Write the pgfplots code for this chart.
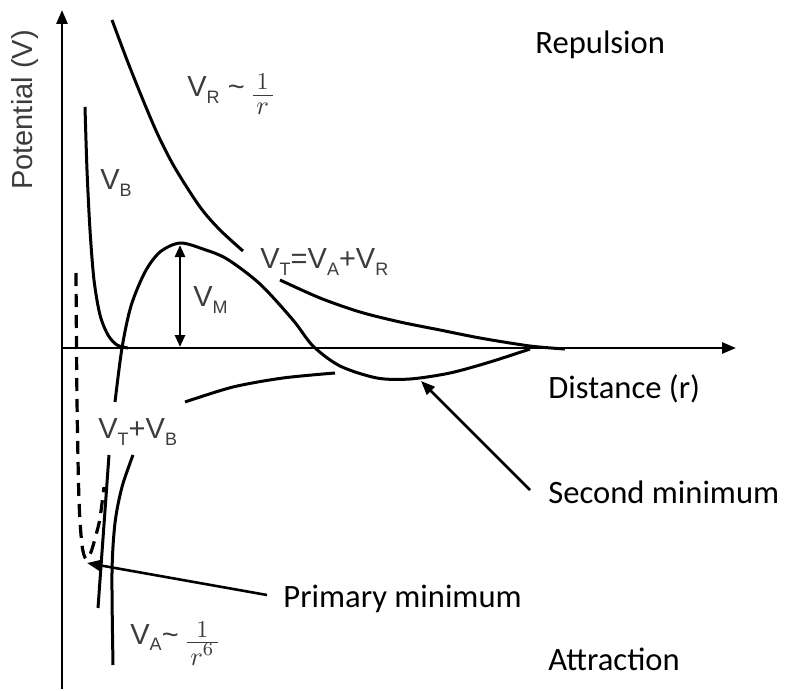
\documentclass[border=0pt]{standalone}
\usepackage{pgfplots}
\pgfplotsset{compat=1.18}
\usepackage{fontspec}
\setmainfont{Carlito}
\newfontfamily\lab{Liberation Sans}
\usetikzlibrary{arrows.meta}

\definecolor{labgray}{RGB}{60,60,60}
% subscript in the sans labels
\newcommand\sub[1]{\raisebox{-0.24em}{\fontsize{9}{9}\selectfont #1}}
\newcommand\vl[1]{{\lab\fontsize{14.5}{16}\selectfont\color{labgray}#1}}
\newcommand\tx[1]{{\fontsize{16.3}{18}\selectfont #1}}
% stacked fraction 1 over #1
\newcommand\fr[1]{\raisebox{3.5pt}{\fontsize{11}{12}\selectfont\setlength\arrayrulewidth{0.6pt}\renewcommand\arraystretch{0.7}%
  \begin{tabular}[t]{@{\,}c@{\,}}\scalebox{1.1}{$1$}\\\hline\rule{0pt}{9pt}\scalebox{1.2}{#1}\end{tabular}}}

\begin{document}
\begin{tikzpicture}
\begin{axis}[
    width=393.5pt, height=344.5pt,
    scale only axis,
    xmin=0, xmax=787, ymin=0, ymax=689,
    y dir=reverse,
    hide axis,
    clip=false,
    every axis plot/.append style={line width=1.5pt, black, no markers},
]
\path (axis cs:0,0) rectangle (axis cs:787,689);

% axes
\addplot[line width=1.3pt, -{Triangle[length=7pt,width=5.5pt]}] coordinates {(62,689)(62,10)};
\addplot[line width=1.3pt, -{Triangle[length=7pt,width=5.5pt]}] coordinates {(62,348)(736,348)};

% V_R ~ 1/r
\addplot[smooth, tension=0.5] coordinates {(112,20)(127,60)(143,100)(158,135)(175,168)(200,207)(220,230)(243,251)};
\addplot[smooth, tension=0.5] coordinates {(280,280)(320,298)(360,312)(400,322)(440,330)(480,338)(530,346)(565,349)};

% V_B
\addplot[smooth, tension=0.5] coordinates {(85,107)(87,170)(90,230)(94,280)(100,315)(108,335)(117,345)(128,348)};

% V_T = V_A + V_R
\addplot[smooth, tension=0.5] coordinates {(115,402)(122,348)(131,306)(145,272)(160,252)(180,243)(203,249)(227,259)(260,284)(293,320)(313,346)(340,366)(377,378)(410,379)(450,373)(490,362)(530,349)};
\addplot[] coordinates {(109,455)(98,608)};

% V_A ~ 1/r^6
\addplot[smooth, tension=0.5] coordinates {(185,402)(233,387)(283,378)(335,373)};
\addplot[smooth, tension=0.5] coordinates {(133,455)(122,487)(115,523)(112,573)(113,665)};

% V_T + V_B (dashed)
\addplot[smooth, tension=0.5, line width=1.6pt, dash pattern=on 6.5pt off 4pt] coordinates {(76,273)(77,400)(79,500)(82,545)(86,559)(91,552)(96,535)(100,518)(104,487)};

% V_M
\addplot[line width=1.3pt, {Triangle[length=6pt,width=5pt]}-{Triangle[length=6pt,width=5pt]}] coordinates {(180,245)(180,347)};

% pointers
\addplot[line width=1.3pt, -{Triangle[length=7pt,width=5.5pt]}] coordinates {(267,595)(87,563)};
\addplot[line width=1.3pt, -{Triangle[length=7pt,width=5.5pt]}] coordinates {(530,490)(421,381)};

% labels
\node[rotate=90, inner sep=0] at (axis cs:25,110) {\vl{Potential (V)}};
\node[anchor=base west, inner sep=0] at (axis cs:187,97) {\vl{V\sub{R} \textasciitilde\ \fr{$r$}}};
\node[anchor=west, inner sep=0] at (axis cs:100,183) {\vl{V\sub{B}}};
\node[anchor=west, inner sep=0] at (axis cs:260,262) {\vl{V\sub{T}=V\sub{A}+V\sub{R}}};
\node[anchor=west, inner sep=0] at (axis cs:193,300) {\vl{V\sub{M}}};
\node[anchor=west, inner sep=0] at (axis cs:98,432) {\vl{V\sub{T}+V\sub{B}}};
\node[anchor=base west, inner sep=0] at (axis cs:130,644) {\vl{V\sub{A}\textasciitilde\ \fr{$r^6$}}};

\node[anchor=west, inner sep=0] at (axis cs:535,45) {\tx{Repulsion}};
\node[anchor=west, inner sep=0] at (axis cs:548,389) {\tx{Distance (r)}};
\node[anchor=west, inner sep=0] at (axis cs:548,492) {\tx{Second minimum}};
\node[anchor=west, inner sep=0] at (axis cs:283,599) {\tx{Primary minimum}};
\node[anchor=west, inner sep=0] at (axis cs:548,659) {\tx{Attraction}};
\end{axis}
\end{tikzpicture}
\end{document}
